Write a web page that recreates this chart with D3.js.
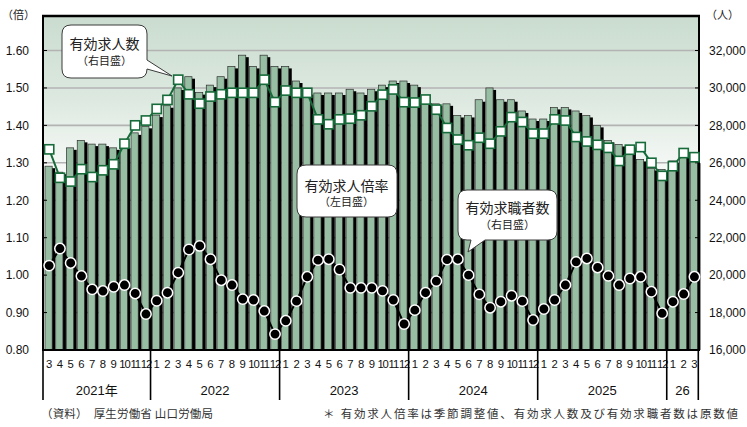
<!DOCTYPE html>
<html><head><meta charset="utf-8">
<script src="https://cdn.jsdelivr.net/npm/d3@7/dist/d3.min.js"></script>
<style>body{margin:0;background:#fff}svg{display:block}</style>
</head><body><svg id="c" width="747" height="427"></svg>
<script>
// ---- data ----
const monthLabels = ["3","4","5","6","7","8","9","10","11","12",
  "1","2","3","4","5","6","7","8","9","10","11","12",
  "1","2","3","4","5","6","7","8","9","10","11","12",
  "1","2","3","4","5","6","7","8","9","10","11","12",
  "1","2","3","4","5","6","7","8","9","10","11","12",
  "1","2","3"];
const yearLabels = ["2021年","2022","2023","2024","2025","26"];
const yearMonthCounts = [10,12,12,12,12,3];
// 有効求人数 (bars, right axis)
const jobOffers = [25820,25500,26800,27200,27000,27000,26800,26900,27600,27950,
  28550,29050,30000,30600,29750,30150,30600,31150,31750,31150,31750,31150,
  31150,30370,29750,29730,29730,29730,29930,29730,29930,30150,30370,30370,
  30150,29300,29150,29150,28530,28530,29370,30000,29370,29370,28770,28340,
  28340,28960,28960,28770,28530,28000,27200,26980,26890,26180,25700,25650,
  26100,26670,26090];
// 有効求人倍率 (squares, left axis)
const jobRatio = [1.336,1.26,1.25,1.283,1.262,1.28,1.296,1.351,1.40,1.413,
  1.444,1.468,1.522,1.483,1.458,1.477,1.483,1.487,1.487,1.487,1.522,1.462,
  1.493,1.487,1.487,1.416,1.403,1.416,1.418,1.427,1.451,1.482,1.496,1.462,
  1.461,1.469,1.442,1.393,1.362,1.347,1.367,1.351,1.384,1.422,1.409,1.378,
  1.378,1.416,1.413,1.369,1.357,1.348,1.34,1.305,1.335,1.342,1.30,1.265,
  1.291,1.326,1.315];
// 有効求職者数 (circles, right axis)
const jobSeekers = [20510,21420,20650,19950,19240,19150,19380,19470,19020,17920,
  18630,19060,20130,21370,21560,20850,19730,19470,18720,18670,18080,16850,
  17560,18610,19910,20800,20850,20300,19320,19320,19320,19160,18670,17390,
  18130,19060,19680,20830,20850,20000,18970,18260,18580,18900,18610,17600,
  18190,18670,19470,20710,20890,20410,19960,19470,19820,19910,19110,17960,
  18580,18990,19910];
const leftTicks = [0.8,0.9,1.0,1.1,1.2,1.3,1.4,1.5,1.6];
const rightTicks = [16000,18000,20000,22000,24000,26000,28000,30000,32000];

// ---- layout ----
const L = 43, R = 699, T = 16, B = 350;
const svg = d3.select("#c");
const latin = "'Liberation Sans', Arial, 'Noto Sans CJK JP', sans-serif";
const cjk = "'Noto Sans CJK JP', 'Noto Sans', sans-serif";

const x = d3.scaleBand().domain(d3.range(monthLabels.length)).range([L, R]);
const bw = x.bandwidth();
const yL = d3.scaleLinear().domain([0.8, 1.6]).range([B, 50.5]);
const yR = d3.scaleLinear().domain([16000, 32000]).range([B, 50.5]);
const cx = i => x(i) + bw / 2;

// background gradient
const defs = svg.append("defs");
const grad = defs.append("linearGradient").attr("id","bg").attr("x1",0).attr("y1",0).attr("x2",0).attr("y2",1);
grad.append("stop").attr("offset","0%").attr("stop-color","#cadccf");
grad.append("stop").attr("offset","25%").attr("stop-color","#dde9e0");
grad.append("stop").attr("offset","50%").attr("stop-color","#fbfcfb");
grad.append("stop").attr("offset","100%").attr("stop-color","#ffffff");
svg.append("rect").attr("x",L).attr("y",T).attr("width",R-L).attr("height",B-T).attr("fill","url(#bg)");

// gridlines
svg.append("g").selectAll("line").data(leftTicks.slice(1)).join("line")
  .attr("x1",L).attr("x2",R).attr("y1",d=>yL(d)).attr("y2",d=>yL(d))
  .attr("stroke","#b3b3b3").attr("stroke-width",1.6);

// bars
const gb = svg.append("g");
gb.selectAll("rect.sh").data(jobOffers).join("rect").attr("class","sh")
  .attr("x",(d,i)=>cx(i)-0.4).attr("y",d=>yR(d)+2)
  .attr("width",7.2).attr("height",d=>B-yR(d)-2).attr("fill","#000");
gb.selectAll("rect.bar").data(jobOffers).join("rect").attr("class","bar")
  .attr("x",(d,i)=>cx(i)-3.4).attr("y",d=>yR(d))
  .attr("width",7.2).attr("height",d=>B-yR(d))
  .attr("fill","#97bda3").attr("stroke","#2e2e2e").attr("stroke-width",0.7);

// frame
svg.append("line").attr("x1",L-1).attr("x2",R+1).attr("y1",T).attr("y2",T).attr("stroke","#000").attr("stroke-width",2.5);
svg.append("line").attr("x1",L).attr("x2",L).attr("y1",T).attr("y2",B).attr("stroke","#000").attr("stroke-width",2);
svg.append("line").attr("x1",R).attr("x2",R).attr("y1",T).attr("y2",B).attr("stroke","#000").attr("stroke-width",2);
svg.append("line").attr("x1",L-1).attr("x2",R+1).attr("y1",B).attr("y2",B).attr("stroke","#000").attr("stroke-width",2);

// left axis
const axL = svg.append("g").attr("transform",`translate(${L},0)`)
  .call(d3.axisLeft(yL).tickValues(leftTicks).tickFormat(d3.format(".2f")).tickSize(0).tickPadding(14));
axL.select(".domain").remove();
axL.selectAll("text").attr("font-family",latin).attr("font-size",12).attr("fill","#111");
svg.append("g").selectAll("line").data(leftTicks).join("line")
  .attr("x1",L).attr("x2",L+4).attr("y1",d=>yL(d)).attr("y2",d=>yL(d)).attr("stroke","#000").attr("stroke-width",1);

// right axis
const axR = svg.append("g").attr("transform",`translate(${R},0)`)
  .call(d3.axisRight(yR).tickValues(rightTicks).tickFormat(d3.format(",")).tickSize(0).tickPadding(10));
axR.select(".domain").remove();
axR.selectAll("text").attr("font-family",latin).attr("font-size",12).attr("fill","#111");
svg.append("g").selectAll("line").data(rightTicks).join("line")
  .attr("x1",R-4).attr("x2",R).attr("y1",d=>yR(d)).attr("y2",d=>yR(d)).attr("stroke","#000").attr("stroke-width",1);

// unit labels
svg.append("text").attr("x",2).attr("y",19).attr("font-family",cjk).attr("font-size",11)
  .attr("fill","#222").text("（倍）");
svg.append("text").attr("x",706).attr("y",19).attr("font-family",cjk).attr("font-size",11)
  .attr("fill","#222").text("（人）");

// month labels
const axB = svg.append("g").attr("transform",`translate(0,${B})`)
  .call(d3.axisBottom(x).tickFormat(i=>monthLabels[i]).tickSize(0).tickPadding(10));
axB.select(".domain").remove();
axB.selectAll("text").attr("font-family",latin).attr("font-size",11.3).attr("fill","#111")
  .attr("dx",0.8)
  .attr("letter-spacing", i => monthLabels[i].length > 1 ? "-1.1px" : null);

// year dividers & labels
let idx = 0;
const bounds = [0];
yearMonthCounts.forEach(c => { idx += c; bounds.push(idx); });
const bx = k => k >= monthLabels.length ? R - 0.7 : x(k);
svg.append("g").selectAll("line").data(bounds).join("line")
  .attr("x1",k=>bx(k)).attr("x2",k=>bx(k)).attr("y1",B).attr("y2",400)
  .attr("stroke","#000").attr("stroke-width",1.6);
svg.append("g").selectAll("text").data(yearLabels).join("text")
  .attr("x",(d,j)=>(bx(bounds[j])+bx(bounds[j+1]))/2).attr("y",395)
  .attr("text-anchor","middle").attr("font-family",latin).attr("font-size",13).attr("fill","#111")
  .text(d=>d);

// ratio line (squares)
const lineR = d3.line().x((d,i)=>cx(i)+0.8).y(d=>yL(d));
svg.append("path").datum(jobRatio).attr("d",lineR).attr("fill","none")
  .attr("stroke","#176b3a").attr("stroke-width",2);
svg.append("g").selectAll("rect").data(jobRatio).join("rect")
  .attr("x",(d,i)=>cx(i)+0.8-4.6).attr("y",d=>yL(d)-4.6).attr("width",9.2).attr("height",9.2)
  .attr("fill","#fff").attr("stroke","#176b3a").attr("stroke-width",1.6);

// seekers line (circles)
const lineS = d3.line().x((d,i)=>cx(i)+0.8).y(d=>yR(d));
svg.append("path").datum(jobSeekers).attr("d",lineS).attr("fill","none")
  .attr("stroke","#000").attr("stroke-width",2);
svg.append("g").selectAll("circle").data(jobSeekers).join("circle")
  .attr("cx",(d,i)=>cx(i)+0.8).attr("cy",d=>yR(d)).attr("r",5.2)
  .attr("fill","#000").attr("stroke","#fff").attr("stroke-width",1.5);

// callouts
const callouts = [
  {d:"M71,25 H138 Q147,25 147,34 V60 L172,76 L147,69 Q147,78 138,78 H71 Q62,78 62,69 V34 Q62,25 71,25 Z",
   t1:"有効求人数", t2:"（右目盛）", cx:104.5, y1:49, y2:65},
  {d:"M306,165 H388 Q397,165 397,174 V208 Q397,217 388,217 H306 Q297,217 297,208 V174 Q297,165 306,165 Z",
   t1:"有効求人倍率", t2:"（左目盛）", cx:346.5, y1:190.5, y2:206},
  {d:"M467,190 H548 Q557,190 557,199 V231 Q557,240 548,240 H485 L468,252 L471,240 H467 Q458,240 458,231 V199 Q458,190 467,190 Z",
   t1:"有効求職者数", t2:"（右目盛）", cx:507.5, y1:212.5, y2:228.5}
];
const gc = svg.append("g");
callouts.forEach(c => {
  gc.append("path").attr("d",c.d).attr("fill","#fff").attr("stroke","#3a3a3a").attr("stroke-width",1);
  const t = gc.append("text").attr("text-anchor","middle").attr("font-family",cjk).attr("fill","#222");
  t.append("tspan").attr("x",c.cx).attr("y",c.y1).attr("font-size",14).text(c.t1);
  t.append("tspan").attr("x",c.cx).attr("y",c.y2).attr("font-size",11).text(c.t2);
});

// footer
svg.append("text").attr("x",41).attr("y",417.5).attr("font-family",cjk).attr("font-size",11.5)
  .attr("fill","#333").attr("textLength",172).attr("lengthAdjust","spacing")
  .text("（資料）　厚生労働省 山口労働局");
svg.append("text").attr("x",323).attr("y",417.5).attr("font-family",cjk).attr("font-size",11.5)
  .attr("fill","#333").attr("textLength",415).attr("lengthAdjust","spacing")
  .text("＊ 有効求人倍率は季節調整値、有効求人数及び有効求職者数は原数値");
</script></body></html>
